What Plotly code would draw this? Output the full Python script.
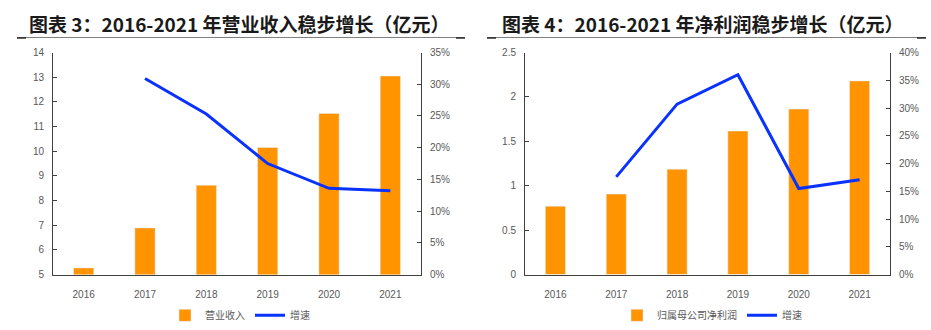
import plotly.graph_objects as go
from plotly.subplots import make_subplots

years = ["2016", "2017", "2018", "2019", "2020", "2021"]

# 营业收入（亿元）及增速
revenue = [5.27, 6.89, 8.62, 10.15, 11.53, 13.05]
revenue_growth = [None, 0.309, 0.253, 0.175, 0.136, 0.132]

# 归属母公司净利润（亿元）及增速
net_profit = [0.77, 0.906, 1.187, 1.616, 1.863, 2.18]
profit_growth = [None, 0.176, 0.307, 0.360, 0.155, 0.171]

left_title = "图表 3：2016-2021 年营业收入稳步增长（亿元）"
right_title = "图表 4：2016-2021 年净利润稳步增长（亿元）"

W, H = 931, 330
ORANGE = "#FF9300"
BLUE = "#0A32FF"
GREY_TXT = "#595959"
AXIS = "#404040"
NUM_FONT = "Liberation Sans Narrow, Liberation Sans, Noto Sans CJK SC, sans-serif"
CJK_FONT = "Noto Sans CJK SC, sans-serif"

fig = make_subplots(rows=1, cols=2,
                    specs=[[{"secondary_y": True}, {"secondary_y": True}]])

fig.add_trace(go.Bar(x=years, y=revenue, name="营业收入", marker_color=ORANGE,
                     legend="legend"), row=1, col=1, secondary_y=False)
fig.add_trace(go.Scatter(x=years, y=revenue_growth, name="增速", mode="lines",
                         line=dict(color=BLUE, width=3), legend="legend"),
              row=1, col=1, secondary_y=True)
fig.add_trace(go.Bar(x=years, y=net_profit, name="归属母公司净利润", marker_color=ORANGE,
                     legend="legend2"), row=1, col=2, secondary_y=False)
fig.add_trace(go.Scatter(x=years, y=profit_growth, name="增速", mode="lines",
                         line=dict(color=BLUE, width=3), legend="legend2"),
              row=1, col=2, secondary_y=True)


def px_x(p):
    return p / W


def px_y(p):
    return 1 - p / H


ydom = [px_y(278), px_y(49)]
tickfont = dict(family=NUM_FONT, size=10, color=GREY_TXT)

axis_common = dict(showline=True, linecolor=AXIS, linewidth=1, showgrid=False,
                   zeroline=False, ticks="inside", ticklen=4, tickcolor=AXIS,
                   tickfont=tickfont, domain=ydom, ticklabelstandoff=6)

xaxis_common = dict(showline=True, linecolor=AXIS, ticks="", tickfont=tickfont,
                    showgrid=False, ticklabelstandoff=10)

legend_common = dict(orientation="h", y=px_y(320), yanchor="middle",
                     font=dict(family=CJK_FONT, size=10, color=GREY_TXT),
                     itemwidth=30, tracegroupgap=0)

fig.update_layout(
    width=W, height=H, margin=dict(l=0, r=0, t=0, b=0),
    plot_bgcolor="white", paper_bgcolor="white",
    bargap=0.67,
    xaxis=dict(domain=[px_x(53), px_x(421)], **xaxis_common),
    xaxis2=dict(domain=[px_x(525), px_x(890)], **xaxis_common),
    yaxis=dict(range=[5, 14], dtick=1, **axis_common),
    yaxis2=dict(range=[0, 0.35], dtick=0.05, tickformat=".0%", **axis_common),
    yaxis3=dict(range=[0, 2.5], dtick=0.5, **axis_common),
    yaxis4=dict(range=[0, 0.4], dtick=0.05, tickformat=".0%", **axis_common),
    legend=dict(x=px_x(240), xanchor="center", **legend_common),
    legend2=dict(x=px_x(712), xanchor="center", **legend_common),
    font=dict(family=NUM_FONT),
)

# 图表标题
for text, x0 in [(left_title, 27), (right_title, 500)]:
    fig.add_annotation(text=f"<b>{text}</b>", x=px_x(x0), y=px_y(19), xref="paper",
                       yref="paper", xanchor="left", yanchor="middle", showarrow=False,
                       font=dict(family=CJK_FONT, size=19, color="#1a1a1a"))

# 标题下划线
for x0, x1 in [(17, 465), (487, 926)]:
    fig.add_shape(type="line", xref="paper", yref="paper", x0=px_x(x0), x1=px_x(x1),
                  y0=px_y(33.5), y1=px_y(33.5), line=dict(color="#7f7f7f", width=1))
    for a, b in [(x0, x0 + 9), (x1 - 9, x1)]:
        fig.add_shape(type="line", xref="paper", yref="paper", x0=px_x(a), x1=px_x(b),
                      y0=px_y(34), y1=px_y(34), line=dict(color="#262626", width=1.5))

fig.write_html("out.html")
